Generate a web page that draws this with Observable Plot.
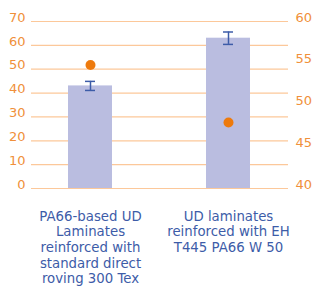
<!DOCTYPE html>
<html><head><meta charset="utf-8">
<script src="https://cdn.jsdelivr.net/npm/d3@7"></script>
<script src="https://cdn.jsdelivr.net/npm/@observablehq/plot@0.6"></script>
<style>body{margin:0;background:#fff}</style>
</head><body><div id="chart"></div>
<script>
const categories = [
  "PA66-based UD Laminates reinforced with standard direct roving 300 Tex",
  "UD laminates reinforced with EH T445 PA66 W 50"
];
const tickLabels = [
  "PA66-based UD\nLaminates\nreinforced with\nstandard direct\nroving 300 Tex",
  "UD laminates\nreinforced with EH\nT445 PA66 W 50"
];
const barValues = [43.0, 63.0];
const errorValues = [1.9, 2.6];
const dotValues = [54.8, 47.9];
const leftTicks = [0, 10, 20, 30, 40, 50, 60, 70];
const rightTicks = [40, 45, 50, 55, 60];
const leftDomain = [0, 70];
const rightDomain = [40, 60];

const toLeft = r => leftDomain[0] + (r - rightDomain[0]) / (rightDomain[1] - rightDomain[0]) * (leftDomain[1] - leftDomain[0]);
const toRight = l => rightDomain[0] + (l - leftDomain[0]) / (leftDomain[1] - leftDomain[0]) * (rightDomain[1] - rightDomain[0]);

const data = categories.map((c, i) => ({cat: c, bar: barValues[i], err: errorValues[i], dot: dotValues[i]}));
const labelOf = new Map(categories.map((c, i) => [c, tickLabels[i]]));

const orange = "#f0903a";
const blue = "#3d5ca8";

const chart = Plot.plot({
  width: 316,
  height: 286,
  marginLeft: 31,
  marginRight: 28,
  marginTop: 21,
  marginBottom: 98,
  style: {fontFamily: "'DejaVu Sans', sans-serif", background: "#fff"},
  x: {domain: categories, paddingInner: 0.68, paddingOuter: 0.265},
  y: {domain: leftDomain},
  marks: [
    Plot.gridY(leftTicks, {stroke: "#fcc89a", strokeOpacity: 1, strokeWidth: 1.2}),
    Plot.barY(data, {x: "cat", y: "bar", fill: "#babde0"}),
    Plot.ruleX(data, {x: "cat", y1: d => d.bar - d.err, y2: d => d.bar + d.err, stroke: blue, strokeWidth: 1.5}),
    Plot.tickY(data, {x: "cat", y: d => d.bar - d.err, stroke: blue, strokeWidth: 1.5, insetLeft: 17, insetRight: 17}),
    Plot.tickY(data, {x: "cat", y: d => d.bar + d.err, stroke: blue, strokeWidth: 1.5, insetLeft: 17, insetRight: 17}),
    Plot.dot(data, {x: "cat", y: d => toLeft(d.dot), r: 5, fill: "#ee7a0c"}),
    Plot.axisY({anchor: "left", ticks: leftTicks, tickSize: 0, tickPadding: 6, dy: -4, fontSize: 13, color: orange, label: null}),
    Plot.axisY({anchor: "right", ticks: rightTicks.map(toLeft), tickFormat: d => Math.round(toRight(d)), tickSize: 0, tickPadding: 7, dy: -4, fontSize: 13, color: orange, label: null}),
    Plot.axisX({tickFormat: d => labelOf.get(d), tickSize: 0, tickPadding: 21, fontSize: 13.3, lineHeight: 1.18, color: blue, label: null})
  ]
});
document.getElementById("chart").appendChild(chart);
</script>
</body></html>
